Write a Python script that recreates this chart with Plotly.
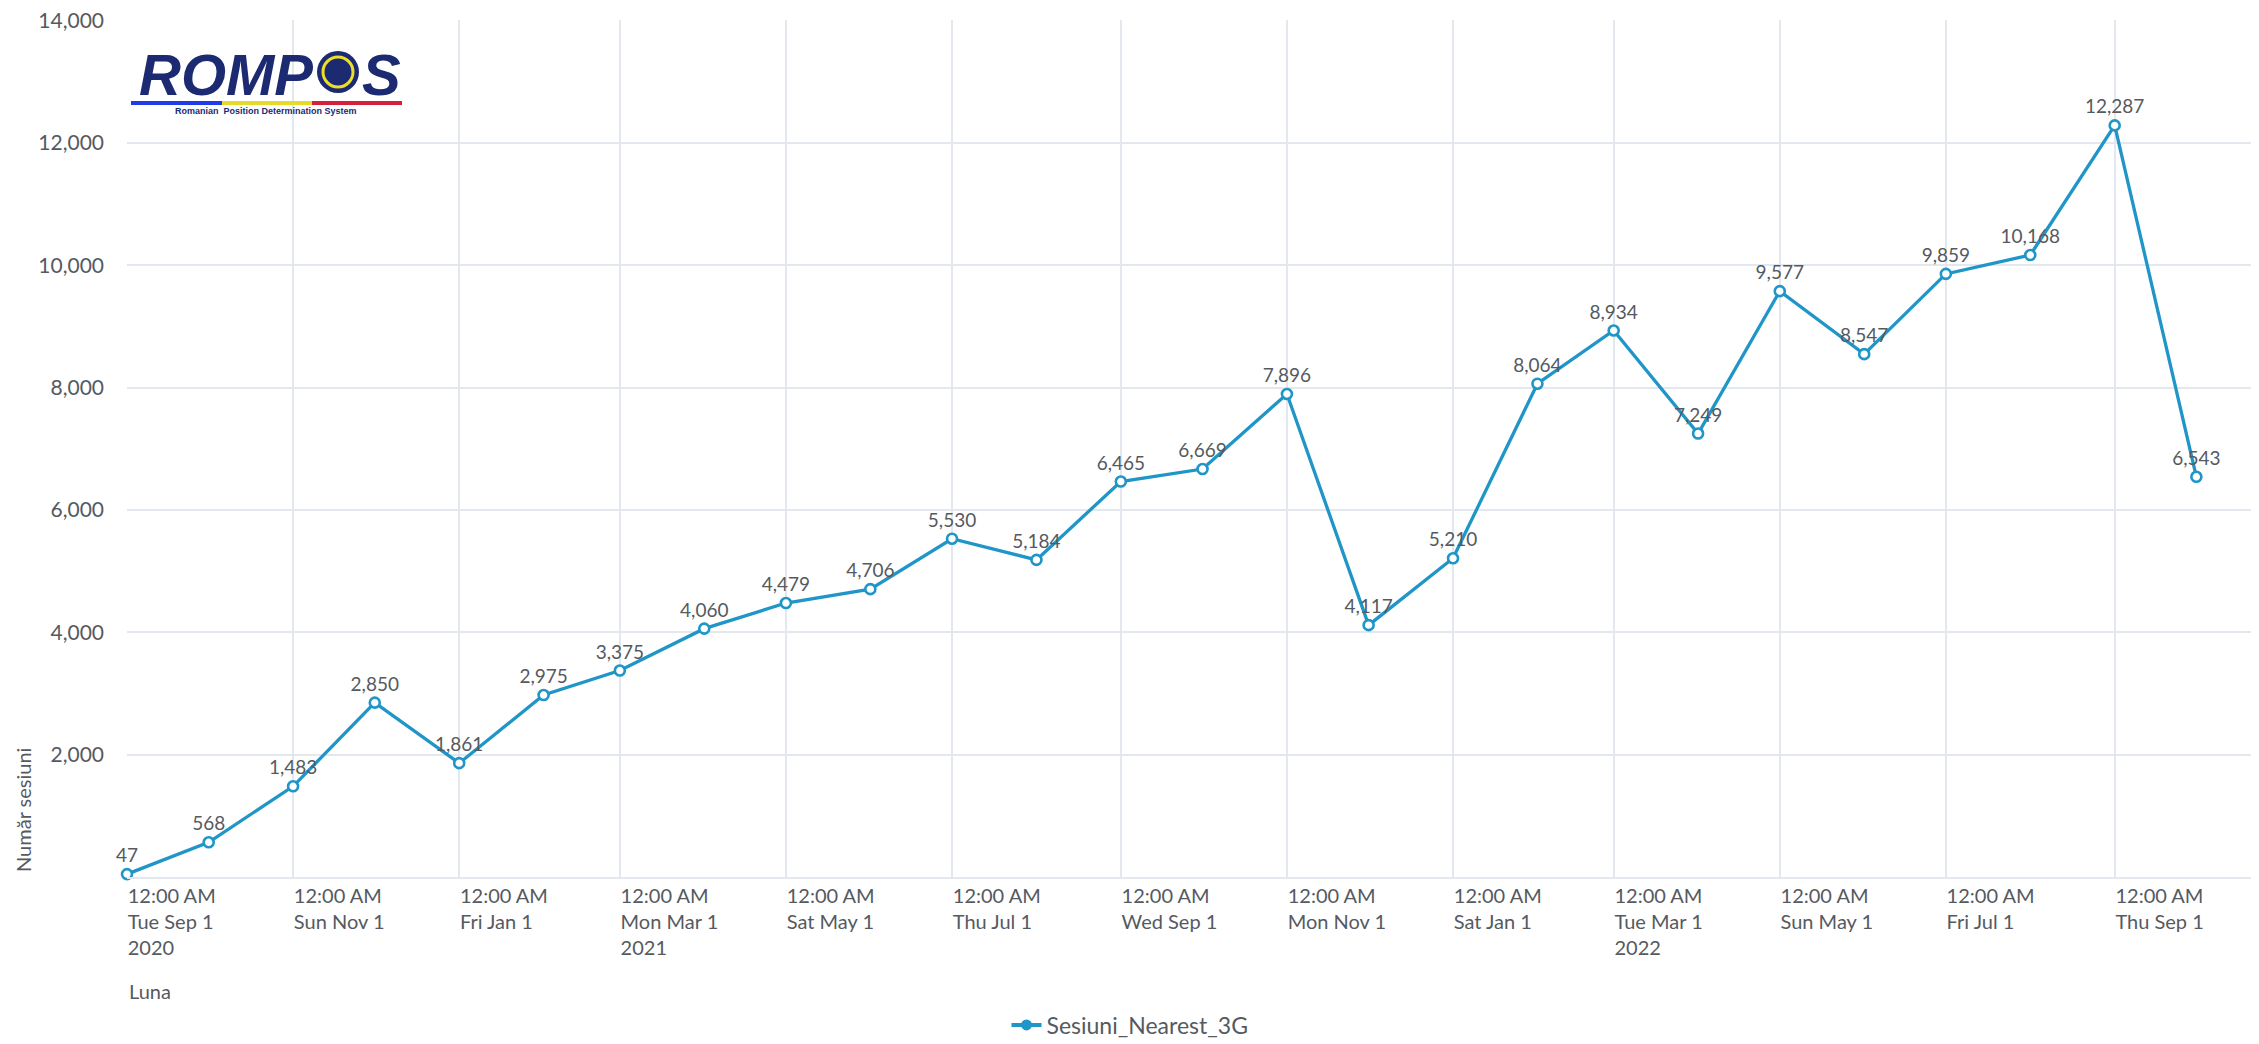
import plotly.graph_objects as go

# ---------------- data ----------------
months = ["2020-09-01", "2020-10-01", "2020-11-01", "2020-12-01",
          "2021-01-01", "2021-02-01", "2021-03-01", "2021-04-01",
          "2021-05-01", "2021-06-01", "2021-07-01", "2021-08-01",
          "2021-09-01", "2021-10-01", "2021-11-01", "2021-12-01",
          "2022-01-01", "2022-02-01", "2022-03-01", "2022-04-01",
          "2022-05-01", "2022-06-01", "2022-07-01", "2022-08-01",
          "2022-09-01", "2022-10-01"]
sessions = [47, 568, 1483, 2850, 1861, 2975, 3375, 4060, 4479, 4706,
            5530, 5184, 6465, 6669, 7896, 4117, 5210, 8064, 8934, 7249,
            9577, 8547, 9859, 10168, 12287, 6543]

x_tick_vals = ["2020-09-01", "2020-11-01", "2021-01-01", "2021-03-01",
               "2021-05-01", "2021-07-01", "2021-09-01", "2021-11-01",
               "2022-01-01", "2022-03-01", "2022-05-01", "2022-07-01",
               "2022-09-01"]
x_tick_text = ["12:00 AM<br>Tue Sep 1<br>2020", "12:00 AM<br>Sun Nov 1",
               "12:00 AM<br>Fri Jan 1", "12:00 AM<br>Mon Mar 1<br>2021",
               "12:00 AM<br>Sat May 1", "12:00 AM<br>Thu Jul 1",
               "12:00 AM<br>Wed Sep 1", "12:00 AM<br>Mon Nov 1",
               "12:00 AM<br>Sat Jan 1", "12:00 AM<br>Tue Mar 1<br>2022",
               "12:00 AM<br>Sun May 1", "12:00 AM<br>Fri Jul 1",
               "12:00 AM<br>Thu Sep 1"]
y_tick_vals = [2000, 4000, 6000, 8000, 10000, 12000, 14000]

series_name = "Sesiuni_Nearest_3G"
x_title = "Luna"
y_title = "Număr sesiuni"

# ---------------- layout constants ----------------
# the page body has an 8px margin, so the figure is drawn 8px right/down
OFF = 8
W, H = 2259 - OFF, 1044 - OFF
L, R, T, B = 127 - OFF, 0, 20 - OFF, H - (877 - OFF)
PW, PH = W - L - R, H - T - B
FONT = "Lato"
TXT = "#555a61"
LINE = "#1f95c8"
GRID = "#e3e7ee"


def px(xs):
    """screen x (reference picture) -> paper x"""
    return (xs - OFF - L) / PW


def py(ys):
    """screen y (reference picture) -> paper y"""
    return (H - B - (ys - OFF)) / PH


fig = go.Figure()
fig.add_trace(go.Scatter(
    x=months, y=sessions, name=series_name, showlegend=False,
    mode="lines+markers+text",
    line=dict(color=LINE, width=3.3),
    marker=dict(size=10, color="white", line=dict(color=LINE, width=2.6)),
    texttemplate="%{y:,}", textposition="top center",
    textfont=dict(family=FONT, size=19, color=TXT),
    cliponaxis=False,
))
# legend entry (filled marker as in the reference legend)
fig.add_trace(go.Scatter(
    x=[None], y=[None], name=series_name, mode="lines+markers",
    line=dict(color=LINE, width=4),
    marker=dict(size=11, color=LINE),
    showlegend=True,
))

annotations = [
    dict(text=y_title, xref="paper", yref="paper", x=px(23), y=py(874),
         xanchor="center", yanchor="bottom", textangle=-90, showarrow=False,
         font=dict(family=FONT, size=20, color=TXT)),
    dict(text=x_title, xref="paper", yref="paper", x=0, y=py(991),
         xanchor="left", yanchor="middle", showarrow=False,
         font=dict(family=FONT, size=20, color=TXT)),
    # logo text
    dict(text="ROMP", xref="paper", yref="paper", x=px(137), y=py(74),
         xanchor="left", yanchor="middle", showarrow=False,
         font=dict(family="Liberation Sans", size=58, color="#1c2a72",
                   weight="bold", style="italic")),
    dict(text="S", xref="paper", yref="paper", x=px(360), y=py(74),
         xanchor="left", yanchor="middle", showarrow=False,
         font=dict(family="Liberation Sans", size=58, color="#1c2a72",
                   weight="bold", style="italic")),
    dict(text="Romanian  Position Determination System", xref="paper",
         yref="paper", x=px(266), y=py(111), xanchor="center",
         yanchor="middle", showarrow=False,
         font=dict(family="Liberation Sans", size=9, color="#1c2a72",
                   weight="bold")),
]

shapes = [
    dict(type="circle", xref="paper", yref="paper",
         x0=px(317), x1=px(359), y0=py(51), y1=py(93),
         fillcolor="#1c2a72", line=dict(width=0), layer="above"),
    dict(type="circle", xref="paper", yref="paper",
         x0=px(323), x1=px(353), y0=py(57), y1=py(87),
         fillcolor="rgba(0,0,0,0)", line=dict(color="#ecdf2a", width=3),
         layer="above"),
    dict(type="line", xref="paper", yref="paper", x0=px(131), x1=px(222),
         y0=py(103), y1=py(103), line=dict(color="#1f3ce6", width=4)),
    dict(type="line", xref="paper", yref="paper", x0=px(222), x1=px(312),
         y0=py(103), y1=py(103), line=dict(color="#e6da2c", width=4)),
    dict(type="line", xref="paper", yref="paper", x0=px(312), x1=px(402),
         y0=py(103), y1=py(103), line=dict(color="#d61f3c", width=4)),
]

fig.update_layout(
    width=W, height=H,
    margin=dict(l=L, r=R, t=T, b=B, autoexpand=False),
    paper_bgcolor="white", plot_bgcolor="white",
    font=dict(family=FONT, size=19, color=TXT),
    showlegend=True,
    legend=dict(orientation="h", x=px(1130), xanchor="center",
                y=py(1025), yanchor="middle",
                font=dict(family=FONT, size=23, color=TXT)),
    annotations=annotations,
    shapes=shapes,
    xaxis=dict(
        type="date", range=["2020-09-01", "2022-10-24"],
        tickvals=x_tick_vals, ticktext=x_tick_text,
        ticklabelposition="outside right", ticklabeloverflow="allow",
        showgrid=True, gridcolor=GRID, gridwidth=1.5,
        showline=True, linecolor=GRID, linewidth=1.5,
        ticks="", tickfont=dict(family=FONT, size=20, color=TXT),
        zeroline=False, automargin=False,
    ),
    yaxis=dict(
        range=[0, 14010], tickvals=y_tick_vals, tickformat=",d",
        ticklabeloverflow="allow",
        showgrid=True, gridcolor=GRID, gridwidth=1.5,
        zeroline=False, showline=False, ticks="",
        tickfont=dict(family=FONT, size=21, color=TXT),
        ticklabelstandoff=22, automargin=False,
    ),
)

fig.write_html("out.html")
